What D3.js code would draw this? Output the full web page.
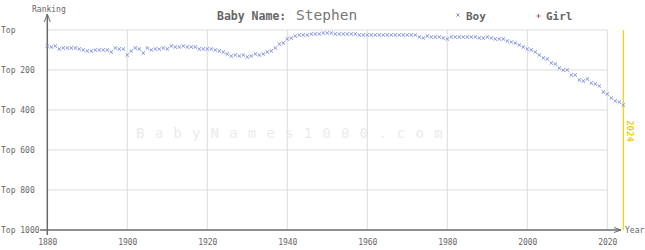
<!DOCTYPE html>
<html>
<head>
<meta charset="utf-8">
<script src="https://cdn.jsdelivr.net/npm/d3@7"></script>
<style>
  body { margin: 0; background: #fff; }
  text { font-family: "DejaVu Sans Mono", "Liberation Mono", monospace; }
</style>
</head>
<body>
<script>
// rank of "Stephen" (boys) per year
var firstYear = 1880;
var boyRanks = [
  80, 85, 80, 95, 90, 90, 90, 90, 95, 100,        // 1880-1889
  105, 105, 100, 100, 100, 100, 110, 90, 95, 95,  // 1890-1899
  125, 105, 90, 95, 115, 90, 100, 95, 95, 90,     // 1900-1909
  95, 80, 85, 85, 80, 85, 85, 85, 95, 95,         // 1910-1919
  95, 95, 100, 105, 110, 120, 130, 125, 130, 125, // 1920-1929
  135, 130, 120, 125, 120, 110, 105, 90, 70, 65,  // 1930-1939
  45, 40, 30, 25, 25, 25, 20, 20, 20, 15,         // 1940-1949
  15, 15, 20, 20, 20, 20, 20, 20, 25, 25,         // 1950-1959
  25, 25, 25, 25, 25, 25, 25, 25, 25, 25,         // 1960-1969
  25, 25, 25, 35, 40, 30, 35, 35, 35, 40,         // 1970-1979
  45, 35, 35, 35, 35, 35, 35, 35, 40, 40,         // 1980-1989
  35, 40, 45, 45, 45, 55, 60, 65, 75, 85,         // 1990-1999
  95, 100, 110, 125, 140, 145, 165, 170, 190, 200,// 2000-2009
  200, 225, 225, 250, 255, 245, 265, 270, 280, 310,// 2010-2019
  320, 340, 355, 360, 375                         // 2020-2024
];
var girlRanks = [];
var yearTicks = [1880, 1900, 1920, 1940, 1960, 1980, 2000, 2020];
var rankTicks = [0, 200, 400, 600, 800, 1000];
var rankLabels = ["Top", "Top 200", "Top 400", "Top 600", "Top 800", "Top 1000"];
var babyName = "Stephen";
var currentYear = 2024;

var width = 645, height = 250;

var svg = d3.select("body").append("svg")
    .attr("width", width)
    .attr("height", height);

var x = d3.scaleLinear().domain([1880, 2024]).range([47.3, 623.3]);
var y = d3.scaleLinear().domain([0, 1000]).range([30, 230]);

var boyData = boyRanks.map(function(r, i) { return {year: firstYear + i, rank: r}; });

//watermark
svg.append("text")
    .attr("x", 136)
    .attr("y", 138)
    .attr("font-size", 14)
    .attr("letter-spacing", 10.2)
    .attr("fill", "#ebebeb")
    .text("BabyNames1000.com");

//grid
svg.append("g")
    .selectAll("line")
    .data(yearTicks.slice(1))
    .enter().append("line")
    .attr("x1", function(d) { return x(d); })
    .attr("x2", function(d) { return x(d); })
    .attr("y1", y(0))
    .attr("y2", y(1000))
    .attr("stroke", "#dcdcdc")
    .attr("stroke-width", 1);

svg.append("g")
    .selectAll("line")
    .data(rankTicks.slice(0, -1))
    .enter().append("line")
    .attr("x1", x(1880))
    .attr("x2", x(2020))
    .attr("y1", function(d) { return y(d); })
    .attr("y2", function(d) { return y(d); })
    .attr("stroke", "#dcdcdc")
    .attr("stroke-width", 1);

//current year line
svg.append("line")
    .attr("x1", x(currentYear)).attr("x2", x(currentYear))
    .attr("y1", y(0)).attr("y2", y(1000))
    .attr("stroke", "#f0d010")
    .attr("stroke-width", 1.2);

svg.append("text")
    .attr("transform", "translate(" + (x(currentYear) + 4) + ",131) rotate(90)")
    .attr("text-anchor", "middle")
    .attr("font-size", 9)
    .attr("font-weight", "bold")
    .attr("fill", "#f0d010")
    .text(currentYear);

//axes
var axisColor = "#6a6a6a";
svg.append("line")
    .attr("x1", x(1880)).attr("x2", x(1880))
    .attr("y1", 14).attr("y2", 235)
    .attr("stroke", axisColor).attr("stroke-width", 1.5);
svg.append("path")
    .attr("d", "M" + (x(1880) - 3) + ",22L" + x(1880) + ",14L" + (x(1880) + 3) + ",22")
    .attr("fill", "none").attr("stroke", axisColor).attr("stroke-width", 1);
svg.append("line")
    .attr("x1", 40).attr("x2", 621)
    .attr("y1", y(1000)).attr("y2", y(1000))
    .attr("stroke", axisColor).attr("stroke-width", 1.5);
svg.append("path")
    .attr("d", "M614,227.5L621,230L614,232.5")
    .attr("fill", "none").attr("stroke", axisColor).attr("stroke-width", 1);

svg.append("text")
    .attr("x", 32).attr("y", 11.5)
    .attr("font-size", 8).attr("fill", "#666")
    .text("Ranking");
svg.append("text")
    .attr("x", 625).attr("y", 233)
    .attr("font-size", 8).attr("fill", "#666")
    .text("Year");

svg.append("g")
    .selectAll("text")
    .data(rankTicks)
    .enter().append("text")
    .attr("x", 1)
    .attr("y", function(d) { return y(d) + 3; })
    .attr("font-size", 8)
    .attr("fill", "#666")
    .text(function(d, i) { return rankLabels[i]; });

var xAxis = svg.append("g")
    .attr("transform", "translate(0," + y(1000) + ")")
    .call(d3.axisBottom(x).tickValues(yearTicks).tickFormat(d3.format("d")).tickSize(0).tickPadding(9));
xAxis.select(".domain").remove();
xAxis.selectAll("text")
    .attr("font-size", 8)
    .attr("font-family", "DejaVu Sans Mono")
    .attr("fill", "#666");

//title and legend
svg.append("text")
    .attr("x", 217).attr("y", 20)
    .attr("font-size", 11.5).attr("font-weight", "bold").attr("fill", "#666")
    .text("Baby Name:");
svg.append("text")
    .attr("x", 296).attr("y", 20)
    .attr("font-size", 14.5).attr("fill", "#777")
    .text(babyName);

function crossPath(cx, cy, r) {
    return "M" + (cx - r) + "," + (cy - r) + "L" + (cx + r) + "," + (cy + r) +
           "M" + (cx - r) + "," + (cy + r) + "L" + (cx + r) + "," + (cy - r);
}
var boyColor = "#8494d2", girlColor = "#c8587a";
svg.append("path")
    .attr("d", crossPath(458, 15, 1.6))
    .attr("stroke", boyColor).attr("stroke-width", 1).attr("fill", "none");
svg.append("text")
    .attr("x", 466).attr("y", 20)
    .attr("font-size", 11).attr("font-weight", "bold").attr("fill", "#666")
    .text("Boy");
svg.append("path")
    .attr("d", "M536.5,16H540.5M538.5,14V18")
    .attr("stroke", girlColor).attr("stroke-width", 1);
svg.append("text")
    .attr("x", 546).attr("y", 20)
    .attr("font-size", 11).attr("font-weight", "bold").attr("fill", "#666")
    .text("Girl");

//boy points
svg.append("g")
    .selectAll(".boy")
    .data(boyData)
    .enter().append("path")
    .attr("class", "boy")
    .attr("d", function(d) { return crossPath(x(d.year), y(d.rank), 1.7); })
    .attr("stroke", boyColor)
    .attr("stroke-width", 1)
    .attr("fill", "none");
</script>
</body>
</html>
